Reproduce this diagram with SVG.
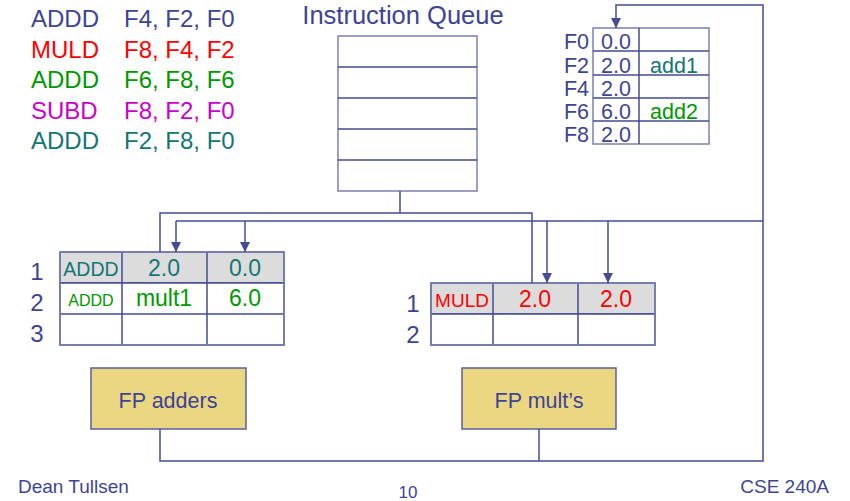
<svg xmlns="http://www.w3.org/2000/svg" width="850" height="501" viewBox="0 0 850 501">
<style>
text{font-family:"Liberation Sans",Arial,sans-serif;fill:#3d4496}
.c{text-anchor:middle}
.cell{fill:#fff;stroke:#454b95;stroke-width:1.5}
.hd{fill:#dcdcdc;stroke:#454b95;stroke-width:1.5}
.out{fill:none;stroke:#7b80b3;stroke-width:1.5}
.ln{fill:none;stroke:#454b95;stroke-width:1.5}
.fu{fill:#ebd782;stroke:#5a60a3;stroke-width:1.5}
.r{fill:#ff0000}.g{fill:#009900}.m{fill:#cc00cc}.t{fill:#137676}
</style>
<defs>
<marker id="ah" markerUnits="userSpaceOnUse" markerWidth="10" markerHeight="10" refX="10" refY="5" orient="auto">
<path d="M0,0 L10,5 L0,10 z" fill="#454b95"/>
</marker>
</defs>

<g id="instructions" font-size="24">
<text x="31" y="27">ADDD</text><text x="124" y="27">F4, F2, F0</text>
<text x="31" y="57.5" class="r">MULD</text><text x="124" y="57.5" class="r">F8, F4, F2</text>
<text x="31" y="88" class="g">ADDD</text><text x="124" y="88" class="g">F6, F8, F6</text>
<text x="31" y="118.5" class="m">SUBD</text><text x="124" y="118.5" class="m">F8, F2, F0</text>
<text x="31" y="149" class="t">ADDD</text><text x="124" y="149" class="t">F2, F8, F0</text>
</g>

<g id="instruction-queue">
<text x="403" y="24" class="c" font-size="25.5">Instruction Queue</text>
<rect x="338" y="36" width="139" height="155" class="out"/>
<path d="M338,67H477M338,98H477M338,129H477M338,160H477" class="ln"/>
</g>

<g id="register-file" font-size="21.5">
<rect x="593" y="28" width="116" height="116" class="out"/>
<path d="M593,51H709M593,75H709M593,98H709M593,121H709M639,28V144" class="ln"/>
<g text-anchor="end">
<text x="589" y="49">F0</text><text x="589" y="72.5">F2</text><text x="589" y="96">F4</text><text x="589" y="119">F6</text><text x="589" y="142">F8</text>
</g>
<g class="c">
<text x="616" y="49" class="c">0.0</text><text x="616" y="72.5" class="c">2.0</text><text x="616" y="96" class="c">2.0</text><text x="616" y="119" class="c">6.0</text><text x="616" y="142" class="c">2.0</text>
<text x="674" y="72.5" class="c t">add1</text><text x="674" y="119" class="c g">add2</text>
</g>
</g>

<g id="adder-stations">
<g font-size="24" class="c"><text x="37" y="280" class="c">1</text><text x="37" y="311" class="c">2</text><text x="37" y="342" class="c">3</text></g>
<rect x="60" y="252" width="224" height="31" class="hd"/>
<rect x="60" y="283" width="224" height="62" class="cell"/>
<path d="M60,314H284M122,252V345M207,252V345" class="ln"/>
<rect x="60" y="252" width="224" height="93" class="out"/>
<text x="91" y="276" class="c t" font-size="19.5">ADDD</text>
<text x="164" y="276" class="c t" font-size="23">2.0</text>
<text x="245" y="276" class="c t" font-size="23">0.0</text>
<text x="91" y="306" class="c g" font-size="16">ADDD</text>
<text x="164" y="306" class="c g" font-size="23">mult1</text>
<text x="245" y="306" class="c g" font-size="23">6.0</text>
</g>

<g id="mult-stations">
<g font-size="24"><text x="413" y="312" class="c">1</text><text x="413" y="343" class="c">2</text></g>
<rect x="431" y="283" width="224" height="31" class="hd"/>
<rect x="431" y="314" width="224" height="31" class="cell"/>
<path d="M493,283V345M578,283V345" class="ln"/>
<rect x="431" y="283" width="224" height="62" class="out"/>
<text x="462" y="307" class="c r" font-size="19">MULD</text>
<text x="535" y="307" class="c r" font-size="23">2.0</text>
<text x="616" y="307" class="c r" font-size="23">2.0</text>
</g>

<g id="fp-adders">
<rect x="91" y="368" width="155" height="61" class="fu"/>
<text x="168" y="408" class="c" font-size="21.5">FP adders</text>
</g>

<g id="fp-mults">
<rect x="462" y="368" width="154" height="61" class="fu"/>
<text x="539" y="408" class="c" font-size="21.5">FP mult’s</text>
</g>

<g id="connectors" class="ln">
<path d="M400,191V213"/>
<path d="M160,252V213H532V283"/>
<path d="M176,221H763"/>
<path d="M176,221V252" marker-end="url(#ah)"/>
<path d="M245,221V252" marker-end="url(#ah)"/>
<path d="M547,221V283" marker-end="url(#ah)"/>
<path d="M608,221V283" marker-end="url(#ah)"/>
<path d="M160,429V461H763V5H616V28" marker-end="url(#ah)"/>
<path d="M539,429V461"/>
</g>

<g id="footer">
<text x="18" y="493" font-size="19">Dean Tullsen</text>
<text x="408" y="498" class="c" font-size="17">10</text>
<text x="829" y="493" text-anchor="end" font-size="19">CSE 240A</text>
</g>
</svg>
